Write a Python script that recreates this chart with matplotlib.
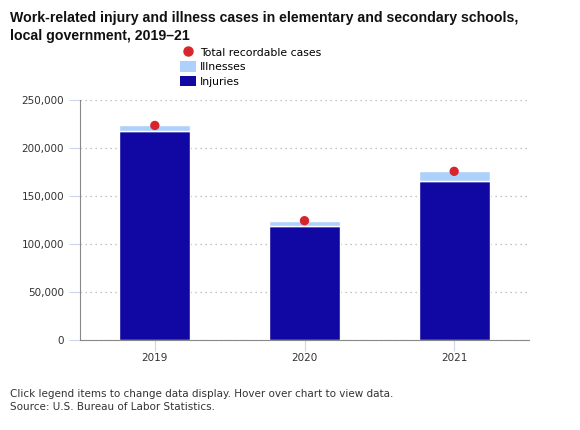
import matplotlib
matplotlib.use("Agg")
import matplotlib.pyplot as plt
from matplotlib.lines import Line2D
from matplotlib.patches import Patch
from matplotlib.ticker import FuncFormatter, MultipleLocator

years = ["2019", "2020", "2021"]
injuries = [218200, 118300, 165400]
illnesses = [5300, 6000, 10300]
totals = [223500, 124300, 175700]

c_inj = "#1108a3"
c_ill = "#aed1fb"
c_tot = "#d7262b"

fig = plt.figure(figsize=(5.8, 4.3), dpi=100)
ax = fig.add_axes([80/580, 90/430, 449/580, 240/430])

x = list(range(len(years)))
w = 0.473
ax.bar(x, injuries, width=w, color=c_inj, edgecolor="white", linewidth=1, zorder=2)
ax.bar(x, illnesses, width=w, bottom=injuries, color=c_ill, edgecolor="white", linewidth=1, zorder=2)
ax.scatter(x, totals, s=45, color=c_tot, zorder=3, edgecolors="none")

ax.set_xlim(-0.5, 2.5)
ax.set_ylim(0, 250000)
ax.set_xticks(x)
ax.set_xticklabels(years)
ax.yaxis.set_major_locator(MultipleLocator(50000))
ax.yaxis.set_major_formatter(FuncFormatter(lambda v, p: f"{int(v):,}"))
ax.grid(axis="y", linestyle=(0, (1, 3)), color="#b0b0b0", linewidth=0.9, zorder=0)
for s in ["top", "right"]:
    ax.spines[s].set_visible(False)
ax.spines["left"].set_color("#888888")
ax.spines["bottom"].set_color("#888888")
ax.spines["left"].set_linewidth(0.8)
ax.spines["bottom"].set_linewidth(0.8)
ax.tick_params(axis="y", length=8, color="#ccd6eb", labelsize=7.5, labelcolor="#333333", pad=3.5)
ax.tick_params(axis="x", length=8, color="#ccd6eb", labelsize=7.5, labelcolor="#333333", pad=1.5)

fig.text(10/580, 1 - 18/430, "Work-related injury and illness cases in elementary and secondary schools,",
         fontsize=10.2, fontweight="bold", family="Liberation Sans", va="center", ha="left", color="#111111")
fig.text(10/580, 1 - 36/430, "local government, 2019\u201321",
         fontsize=10.2, fontweight="bold", family="Liberation Sans", va="center", ha="left", color="#111111")

handles = [
    Line2D([0], [0], marker="o", linestyle="none", color=c_tot, markersize=6.5),
    Patch(facecolor=c_ill, edgecolor="none"),
    Patch(facecolor=c_inj, edgecolor="none"),
]
labels = ["Total recordable cases", "Illnesses", "Injuries"]
leg = fig.legend(handles, labels, loc="upper left", bbox_to_anchor=(180/580, 1 - 47/430),
                 frameon=False, fontsize=7.8, handlelength=1.45, handleheight=1.1,
                 handletextpad=0.4, labelspacing=0.32, borderpad=0, borderaxespad=0)

fig.text(10/580, 1 - 394/430, "Click legend items to change data display. Hover over chart to view data.",
         fontsize=7.5, color="#333333", va="center", ha="left")
fig.text(10/580, 1 - 407/430, "Source: U.S. Bureau of Labor Statistics.",
         fontsize=7.5, color="#333333", va="center", ha="left")

fig.savefig("out.png", dpi=100)
